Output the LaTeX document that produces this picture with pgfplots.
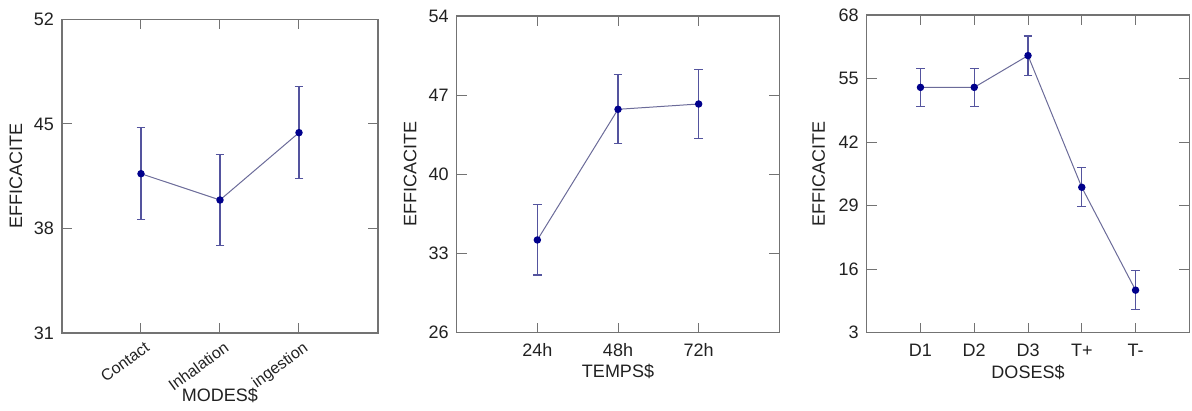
\documentclass[border=0pt]{standalone}
\usepackage{fontspec}
\setmainfont{Liberation Sans}
\usepackage{pgfplots}
\pgfplotsset{compat=1.18}
\definecolor{axgray}{gray}{0.45}
\definecolor{ebcol}{rgb}{0.33,0.33,0.62}
\definecolor{lncol}{rgb}{0.42,0.42,0.6}
\definecolor{mkcol}{rgb}{0.0,0.0,0.55}
\definecolor{txt}{gray}{0.13}
\pgfplotsset{
  panel/.style={
    scale only axis, anchor=south west,
    axis line style={axgray, line width=0.6pt},
    every tick/.style={axgray, line width=0.5pt},
    major tick length=5pt,
    tick align=inside,
    tick pos=both,
    font=\fontsize{9}{10}\selectfont\color{txt},
    /pgf/number format/assume math mode=true,
    yticklabel style={xshift=-0.5pt},
    xticklabel style={yshift=-2pt},
    ylabel={EFFICACITE},
    ylabel style={at={(axis description cs:0,0.5)}, anchor=center, rotate=0},
    clip=false,
  },
  ser/.style={
    lncol, line width=0.5pt,
    mark=*, mark size=1.6pt, mark options={fill=mkcol, draw=mkcol},
    error bars/.cd, y dir=both, y explicit,
    error bar style={ebcol, line width=0.6pt},
    error mark options={rotate=90, mark size=2.2pt, ebcol, line width=0.6pt},
  },
}
\begin{document}
\begin{tikzpicture}
\path[use as bounding box] (0,0) rectangle (596pt,205.5pt);
% Panel 1
\begin{axis}[panel, at={(31pt,39pt)}, width=158pt, height=156.75pt,
  xmin=0, xmax=4, ymin=31, ymax=52, ytick={31,38,45,52},
  xtick={1,2,3}, xticklabels={Contact,Inhalation,ingestion},
  xticklabel style={font=\fontsize{8}{9}\selectfont\color{txt}, rotate=36, anchor=north east, xshift=3.5pt, yshift=1pt},
  xlabel={MODES\$},
  xlabel style={at={(axis description cs:0.5,0)}, anchor=center, yshift=-31pt},
  ylabel style={yshift=23pt},
]
\addplot+[ser] coordinates {
  (1,41.67) +- (0,3.07)
  (2,39.91) +- (0,3.07)
  (3,44.42) +- (0,3.07)
};
\end{axis}
% Panel 2
\begin{axis}[panel, at={(228.35pt,39.15pt)}, width=161.3pt, height=158.35pt,
  xmin=0, xmax=4, ymin=26, ymax=54, ytick={26,33,40,47,54},
  xtick={1,2,3}, xticklabels={24h,48h,72h},
  xlabel={TEMPS\$},
  xlabel style={at={(axis description cs:0.5,0)}, anchor=center, yshift=-19.5pt},
  ylabel style={yshift=23.3pt},
]
\addplot+[ser] coordinates {
  (1,34.2) +- (0,3.1)
  (2,45.75) +- (0,3.05)
  (3,46.22) +- (0,3.05)
};
\end{axis}
% Panel 3
\begin{axis}[panel, at={(433.35pt,39.15pt)}, width=161.3pt, height=158.85pt,
  xmin=0, xmax=6, ymin=3, ymax=68, ytick={3,16,29,42,55,68},
  xtick={1,2,3,4,5}, xticklabels={D1,D2,D3,T+,T-},
  xlabel={DOSES\$},
  xlabel style={at={(axis description cs:0.5,0)}, anchor=center, yshift=-20pt},
  ylabel style={yshift=24pt},
]
\addplot+[ser] coordinates {
  (1,53.2) +- (0,3.9)
  (2,53.2) +- (0,3.9)
  (3,59.7) +- (0,4.0)
  (4,32.75) +- (0,4.0)
  (5,11.7) +- (0,3.95)
};
\end{axis}
\end{tikzpicture}
\end{document}
